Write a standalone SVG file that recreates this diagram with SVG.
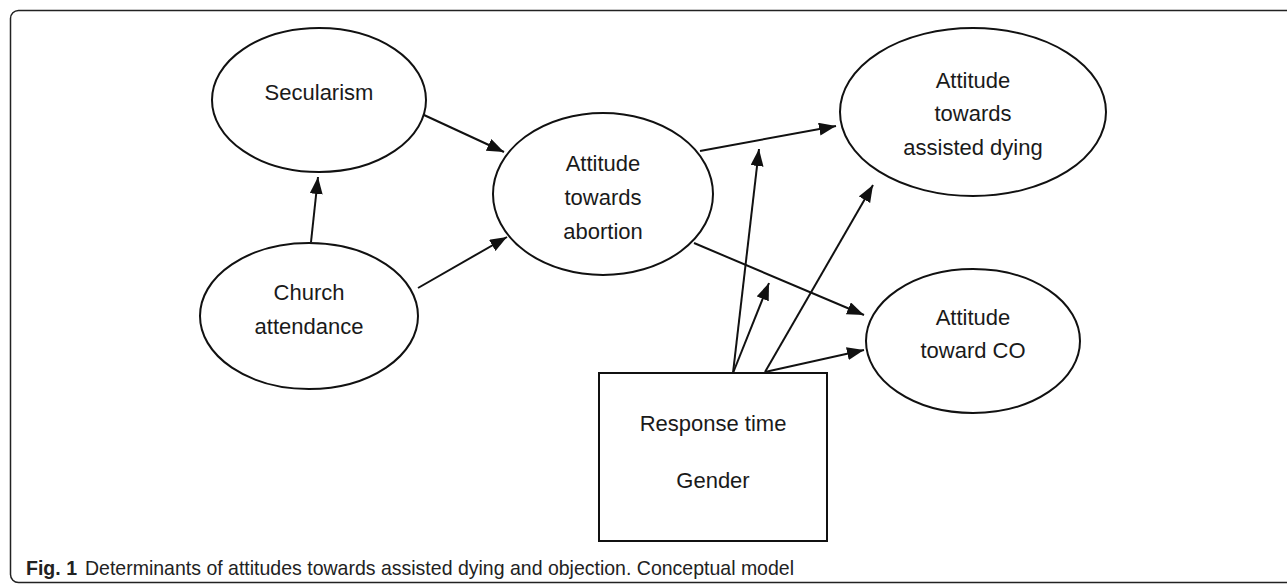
<svg xmlns="http://www.w3.org/2000/svg" width="1287" height="586" viewBox="0 0 1287 586">
<style>
.node{fill:#fff;stroke:#111;stroke-width:2}
.lbl{font-family:"Liberation Sans",Arial,sans-serif;font-size:22px;fill:#1a1a1a;text-anchor:middle}
.conn line{stroke:#111;stroke-width:2;marker-end:url(#ah)}
.cap{font-family:"Liberation Sans",Arial,sans-serif;font-size:21px;fill:#222}
</style>
<defs>
<marker id="ah" markerUnits="userSpaceOnUse" markerWidth="18" markerHeight="14" refX="17" refY="6.5" orient="auto">
<path d="M0,0 L17,6.5 L0,13 z" fill="#111"/>
</marker>
</defs>
<rect x="10.5" y="10.5" width="1310" height="572" rx="8" fill="none" stroke="#222" stroke-width="1.5"/>
<g class="conn" id="connectors">
<line x1="424" y1="115" x2="504" y2="152"/>
<line x1="311" y1="242" x2="318" y2="177"/>
<line x1="418" y1="288" x2="507" y2="237"/>
<line x1="700" y1="151" x2="836" y2="126"/>
<line x1="694" y1="243" x2="864" y2="315"/>
<line x1="733" y1="373" x2="759" y2="149"/>
<line x1="733" y1="373" x2="769" y2="283"/>
<line x1="765" y1="372" x2="873" y2="185"/>
<line x1="765" y1="372" x2="864" y2="350"/>
</g>
<g id="secularism">
<ellipse class="node" cx="319" cy="100" rx="107" ry="72"/>
<text class="lbl" x="319" y="100">Secularism</text>
</g>
<g id="church">
<ellipse class="node" cx="309" cy="316" rx="109" ry="73"/>
<text class="lbl" x="309" y="300">Church</text>
<text class="lbl" x="309" y="334">attendance</text>
</g>
<g id="abortion">
<ellipse class="node" cx="603" cy="194" rx="110" ry="81"/>
<text class="lbl" x="603" y="171">Attitude</text>
<text class="lbl" x="603" y="205">towards</text>
<text class="lbl" x="603" y="239">abortion</text>
</g>
<g id="dying">
<ellipse class="node" cx="973" cy="112" rx="133" ry="84"/>
<text class="lbl" x="973" y="88">Attitude</text>
<text class="lbl" x="973" y="121">towards</text>
<text class="lbl" x="973" y="155">assisted dying</text>
</g>
<g id="co">
<ellipse class="node" cx="973" cy="341" rx="107" ry="72"/>
<text class="lbl" x="973" y="325">Attitude</text>
<text class="lbl" x="973" y="358">toward CO</text>
</g>
<g id="controls">
<rect class="node" x="599" y="373" width="228" height="168"/>
<text class="lbl" x="713" y="431">Response time</text>
<text class="lbl" x="713" y="488">Gender</text>
</g>
<g id="caption">
<text class="cap" x="26" y="575" font-weight="bold" textLength="51" lengthAdjust="spacingAndGlyphs">Fig. 1</text>
<text class="cap" x="85" y="575" textLength="709" lengthAdjust="spacingAndGlyphs">Determinants of attitudes towards assisted dying and objection. Conceptual model</text>
</g>
</svg>
